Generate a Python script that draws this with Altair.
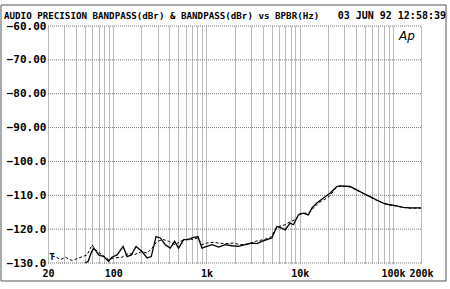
import altair as alt
import pandas as pd

# ---- data ----
solid_f = [50, 54, 58, 62, 70, 79, 89, 97, 110, 128, 141, 157, 176, 204, 231, 256, 288, 320, 362, 410,
           456, 502, 569, 640, 700, 811, 895, 1010, 1150, 1350, 1590, 1870, 2210, 2600, 3070, 3480, 3930,
           4450, 5030, 5690, 6440, 6980, 7890, 8570, 9690, 10960, 12400, 13490, 15250, 17950, 21170,
           24970, 27100, 34700, 40850, 48100, 56700, 67000, 78800, 92900, 109600, 128900, 152000, 200000]
solid_db = [-130.0, -129.5, -127.0, -125.6, -127.6, -128.1, -129.5, -128.3, -127.6, -125.1, -128.1, -127.6,
            -125.1, -126.6, -128.5, -128.1, -122.2, -122.6, -124.6, -125.6, -123.6, -125.6, -123.1, -123.1,
            -122.6, -122.2, -125.6, -125.1, -124.6, -125.3, -124.6, -124.9, -125.1, -124.6, -124.1, -124.3,
            -123.6, -123.1, -122.6, -119.2, -119.7, -120.2, -118.2, -118.7, -115.8, -115.3, -115.8, -113.8,
            -112.3, -110.8, -109.4, -107.4, -107.2, -107.4, -108.4, -109.4, -110.4, -111.4, -112.3, -112.8,
            -113.1, -113.6, -113.7, -113.7]

dash_f = [22, 24, 27.2, 30.8, 36.3, 42.7, 52.6, 59.4, 64.5, 76, 89.5, 101, 124, 147, 166, 204, 231, 261,
          295, 348, 393, 463, 525, 593, 671, 700, 811, 895, 1010, 1190, 1350, 1590, 1950, 2300, 2830, 3330,
          4090, 4820, 5690, 6980, 7700, 8930, 10100, 12400, 15860, 20650, 24970, 27100, 34700, 40850, 48100,
          56700, 67000, 78800, 92900, 109600, 128900, 152000, 200000]
dash_db = [-128.0, -128.1, -129.0, -128.3, -129.3, -128.5, -127.6, -124.6, -126.1, -127.6, -129.0, -128.5,
           -128.3, -127.1, -127.6, -126.6, -127.1, -125.6, -123.6, -123.1, -123.6, -124.6, -123.6, -123.1,
           -122.8, -123.1, -122.6, -124.6, -124.1, -123.9, -124.1, -124.3, -124.1, -124.6, -124.4, -123.6,
           -123.1, -122.6, -119.4, -118.7, -118.0, -117.2, -115.3, -115.3, -112.3, -110.4, -107.6, -107.3,
           -107.5, -108.5, -109.5, -110.5, -111.5, -112.4, -112.9, -113.2, -113.6, -113.8, -113.8]

x_grid = [20, 30, 40, 50, 60, 70, 80, 90,
          100, 200, 300, 400, 500, 600, 700, 800, 900,
          1000, 2000, 3000, 4000, 5000, 6000, 7000, 8000, 9000,
          10000, 20000, 30000, 40000, 50000, 60000, 70000, 80000, 90000,
          100000, 200000]
y_ticks = [-130, -120, -110, -100, -90, -80, -70, -60]

title_left = "AUDIO PRECISION BANDPASS(dBr) & BANDPASS(dBr) vs BPBR(Hz)"
title_right = "03 JUN 92 12:58:39"

MONO = "DejaVu Sans Mono"

solid_df = pd.DataFrame({"f": solid_f, "db": solid_db})
dash_df = pd.DataFrame({"f": dash_f, "db": dash_db})
ygrid_df = pd.DataFrame({"db": y_ticks})

x_label_expr = ("datum.value == 20 ? '20' : datum.value == 100 ? '100' : datum.value == 1000 ? '1k' : "
                "datum.value == 10000 ? '10k' : datum.value == 100000 ? '100k' : "
                "datum.value == 200000 ? '200k' : ''")

x_enc = alt.X("f:Q",
              scale=alt.Scale(type="log", domain=[20, 200000], nice=False),
              axis=alt.Axis(values=x_grid, labelExpr=x_label_expr, title=None, ticks=False, domain=False,
                            grid=True, gridColor="#777777", gridDash=[1, 1], gridWidth=1,
                            labelOverlap=False, labelFlush=False, labelFont=MONO, labelFontWeight="bold",
                            labelFontSize=10, labelColor="black", labelPadding=5))
y_enc = alt.Y("db:Q",
              scale=alt.Scale(domain=[-130, -60], nice=False, zero=False),
              axis=alt.Axis(values=y_ticks, tickCount=8,
                            labelExpr="datum.value > -100 ? format(datum.value, '.2f') : format(datum.value, '.1f')",
                            title=None, ticks=False, domain=False, grid=False,
                            labelOverlap=False, labelFlush=False, labelBound=False,
                            labelFont=MONO, labelFontWeight="bold", labelFontSize=11,
                            labelColor="black", labelPadding=2))

ygrid = alt.Chart(ygrid_df).mark_rule(color="#777777", strokeWidth=1, strokeDash=[1, 1]).encode(y=y_enc)
solid = alt.Chart(solid_df).mark_line(color="black", strokeWidth=1.3, clip=True).encode(x=x_enc, y="db:Q")
dashed = alt.Chart(dash_df).mark_line(color="black", strokeWidth=1, strokeDash=[3, 2], clip=True).encode(
    x="f:Q", y="db:Q")

one = pd.DataFrame({"a": [0]})
frame = alt.Chart(one).mark_rect(filled=False, stroke="#555", strokeWidth=1).encode(
    x=alt.value(-47), x2=alt.value(398), y=alt.value(-21), y2=alt.value(255))
t_left = alt.Chart(one).mark_text(text=title_left, font=MONO, fontWeight="bold", fontSize=9.2,
                                  align="left", baseline="middle", color="black").encode(
    x=alt.value(-44), y=alt.value(-10))
t_right = alt.Chart(one).mark_text(text=title_right, font=MONO, fontWeight="bold", fontSize=10,
                                   align="right", baseline="middle", color="black").encode(
    x=alt.value(398), y=alt.value(-10))
ap = alt.Chart(one).mark_text(text="Ap", font="DejaVu Sans", fontStyle="italic", fontSize=12,
                              align="center", baseline="middle", color="black").encode(
    x=alt.value(359), y=alt.value(10))
tmark = alt.Chart(one).mark_text(text="T", font=MONO, fontWeight="bold", fontSize=9,
                                 align="center", baseline="middle", color="black").encode(
    x=alt.value(4), y=alt.value(231))

chart = alt.layer(ygrid, solid, dashed, frame, t_left, t_right, ap, tmark).properties(
    width=373, height=237,
    padding={"left": 48, "top": 26, "right": 29, "bottom": 26},
    autosize=alt.AutoSizeParams(type="none"),
    background="white",
).configure_view(stroke="transparent")

chart.save("out.html", embed_options={"renderer": "svg", "actions": False})
